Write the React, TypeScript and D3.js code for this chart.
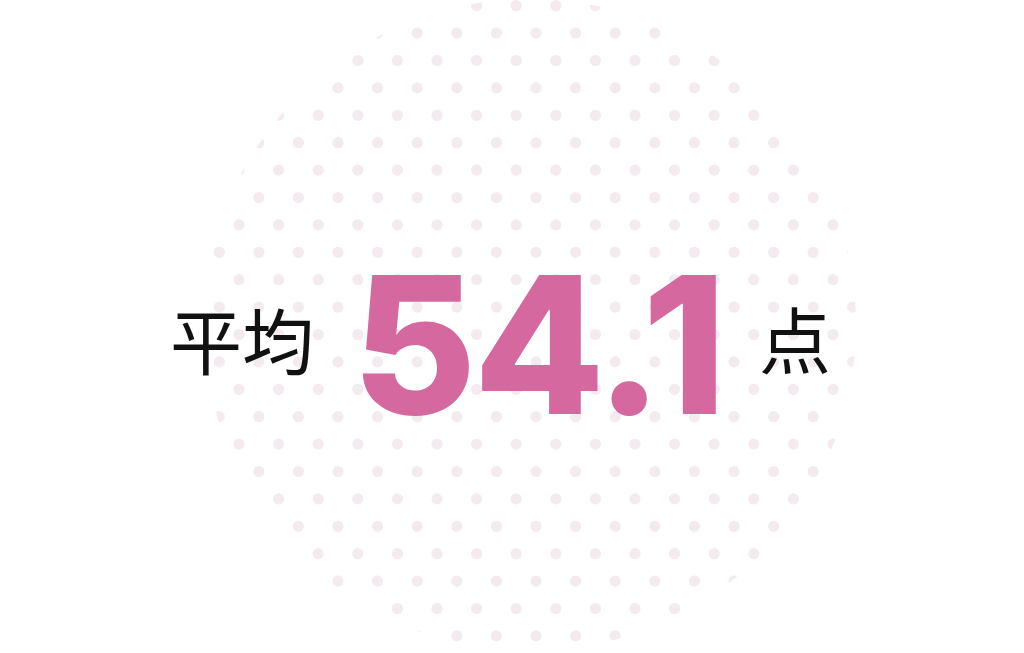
import * as React from 'react';
import { useRef, useEffect } from 'react';
import * as d3 from 'd3';

const labelPrefix = '平均';
const averageValue = 54.1;
const labelSuffix = '点';

export default function App() {
  const ref = useRef<SVGSVGElement>(null);
  const width = 1024;
  const height = 653;
  const cx = 530;
  const cy = 325;
  const radius = 326;

  useEffect(() => {
    if (!ref.current) return;
    const svg = d3.select(ref.current);
    svg.selectAll('*').remove();

    // dotted disc background
    const rowCount = 25;
    const colCount = 18;
    const yScale = d3.scaleLinear().domain([0, 1]).range([5.7, 33.1]);
    const xScale = d3.scaleLinear().domain([0, 1]).range([199.4, 239.0]);

    const dots: { x: number; y: number }[] = [];
    d3.range(-1, rowCount).forEach((r) => {
      d3.range(-1, colCount).forEach((c) => {
        const x = xScale(c + (r % 2 === 0 ? 0 : 0.5));
        dots.push({ x, y: yScale(r) });
      });
    });

    svg.append('defs')
      .append('clipPath')
      .attr('id', 'disc')
      .append('circle')
      .attr('cx', cx)
      .attr('cy', cy)
      .attr('r', radius);

    svg.append('g')
      .attr('clip-path', 'url(#disc)')
      .selectAll('circle')
      .data(dots)
      .join('circle')
      .attr('cx', (d) => d.x)
      .attr('cy', (d) => d.y)
      .attr('r', 5.6)
      .attr('fill', '#f3ebef');

    const fmt = d3.format('.1f');

    svg.append('text')
      .attr('x', 170)
      .attr('y', 369)
      .attr('font-family', '"Noto Sans CJK JP", sans-serif')
      .attr('font-size', 72)
      .attr('font-weight', 400)
      .attr('fill', '#111')
      .text(labelPrefix);

    svg.append('text')
      .attr('x', 352)
      .attr('y', 414)
      .attr('font-family', 'Inter, sans-serif')
      .attr('font-size', 191)
      .attr('font-weight', 800)
      .attr('letter-spacing', -3)
      .attr('fill', '#d4689f')
      .text(fmt(averageValue));

    svg.append('text')
      .attr('x', 759)
      .attr('y', 368)
      .attr('font-family', '"Noto Sans CJK JP", sans-serif')
      .attr('font-size', 72)
      .attr('font-weight', 400)
      .attr('fill', '#111')
      .text(labelSuffix);
  }, []);

  return (
    <svg
      ref={ref}
      width={width}
      height={height}
      style={{ position: 'absolute', left: 0, top: 0, background: '#fff' }}
    />
  );
}
